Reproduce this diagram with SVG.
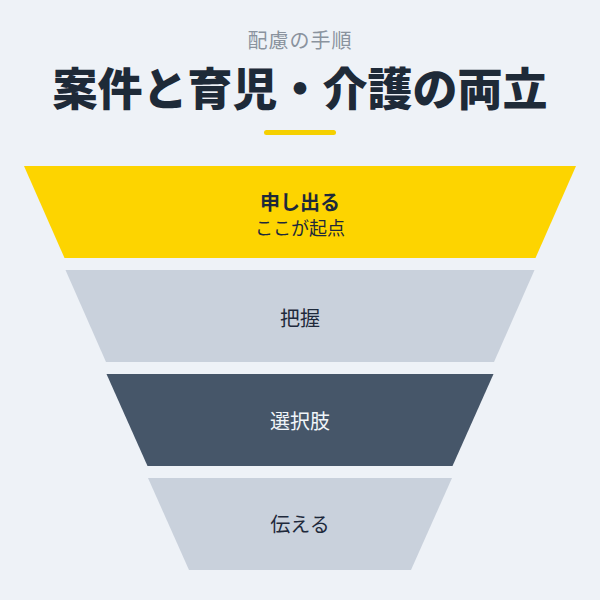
<svg xmlns="http://www.w3.org/2000/svg" width="600" height="600" viewBox="0 0 600 600">
<style>
  text { font-family: "Noto Sans CJK JP", "Noto Sans", sans-serif; text-anchor: middle; dominant-baseline: central; }
  .sub { font-size: 20px; fill: #8A939E; letter-spacing: 1px; }
  .title { font-size: 45px; font-weight: 900; fill: #1E2A38; }
  .lbl { font-size: 20px; fill: #1E293B; }
  .lblb { font-size: 20px; font-weight: 700; fill: #1E293B; }
  .small { font-size: 18px; fill: #1E293B; }
  .w { fill: #F1F5F9; }
  .yel { fill: #FDD400; }
  .gry { fill: #C9D1DC; }
  .drk { fill: #465669; }
</style>
<rect width="600" height="600" fill="#EEF2F7"/>
<g id="header">
  <text class="sub" x="300" y="39">配慮の手順</text>
  <text class="title" x="300" y="86">案件と育児・介護の両立</text>
  <rect x="264" y="130" width="72" height="5" rx="2.5" fill="#F5D000"/>
</g>
<g id="step1">
  <polygon class="yel" points="24,166 576,166 535.5,258 64.5,258"/>
  <text class="lblb" x="300" y="201">申し出る</text>
  <text class="small" x="300" y="227">ここが起点</text>
</g>
<g id="step2">
  <polygon class="gry" points="65.5,270 534.5,270 494,362 106,362"/>
  <text class="lbl" x="300" y="317">把握</text>
</g>
<g id="step3">
  <polygon class="drk" points="106.5,374 493.5,374 452.5,466 147.5,466"/>
  <text class="lbl w" x="300" y="420">選択肢</text>
</g>
<g id="step4">
  <polygon class="gry" points="148,478 452,478 411,570 189,570"/>
  <text class="lbl" x="300" y="523">伝える</text>
</g>
<g id="connectors"></g>
</svg>
